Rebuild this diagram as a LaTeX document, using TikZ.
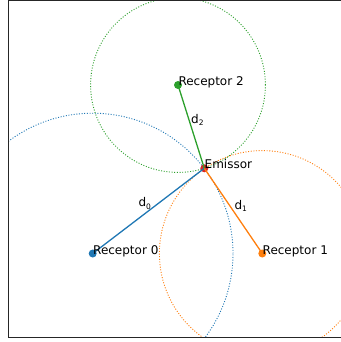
\documentclass[tikz,border=0pt]{standalone}
\usepackage{fontspec}
\setmainfont{DejaVu Sans}
\definecolor{tabblue}{HTML}{1F77B4}
\definecolor{taborange}{HTML}{FF7F0E}
\definecolor{tabgreen}{HTML}{2CA02C}
\definecolor{tabred}{HTML}{D62728}
\begin{document}
\begin{tikzpicture}[x=1pt,y=-1pt,
  lbl/.style={anchor=base west, inner sep=0pt, font=\fontsize{12}{14}\selectfont},
  dot/.style={circle, inner sep=0pt, minimum size=8pt, fill=#1},
  circ/.style={line width=0.9pt, dash pattern=on 1pt off 1.65pt},
  link/.style={line width=1.3pt},
  spine/.style={line width=1pt, black!85}]
\useasboundingbox (0,0) rectangle (340,342);
\coordinate (r0) at (92.7,253.5);
\coordinate (r1) at (262.3,253.5);
\coordinate (r2) at (178,85);
\coordinate (em) at (204.3,168.3);
\begin{scope}
  \clip (8,0.5) rectangle (345,337.7);
  \draw[tabblue, circ] (r0) circle (140.3pt);
  \draw[taborange, circ] (r1) circle (102.9pt);
  \draw[tabgreen, circ] (r2) circle (87.4pt);
\end{scope}
\node[dot=tabred] (emd) at (em) {};
\draw[link, tabblue] (r0) -- (em);
\draw[link, taborange] (r1) -- (em);
\draw[link, tabgreen] (r2) -- (em);
\node[dot=tabblue] (r0d) at (r0) {};
\node[dot=taborange] (r1d) at (r1) {};
\node[dot=tabgreen] (r2d) at (r2) {};
\node[lbl] (t0) at (93,254) {Receptor 0};
\node[lbl] (t1) at (262.5,254) {Receptor 1};
\node[lbl] (t2) at (178.3,85.5) {Receptor 2};
\node[lbl] (te) at (204.5,168.8) {Emissor};
\node[lbl] (d0) at (138.3,206.7) {d\raisebox{-2.3pt}{\fontsize{7.5}{8}\selectfont 0}};
\node[lbl] (d1) at (234.3,209) {d\raisebox{-2.3pt}{\fontsize{7.5}{8}\selectfont 1}};
\node[lbl] (d2) at (191,123.3) {d\raisebox{-2.3pt}{\fontsize{7.5}{8}\selectfont 2}};
\coordinate (sa) at (8,0.5);
\coordinate (sb) at (8,337.7);
\coordinate (sc) at (345,337.7);
\coordinate (sd) at (345,0.5);
\draw[spine] (sd) -- (sa) -- (sb) -- (sc);
\end{tikzpicture}
\end{document}
